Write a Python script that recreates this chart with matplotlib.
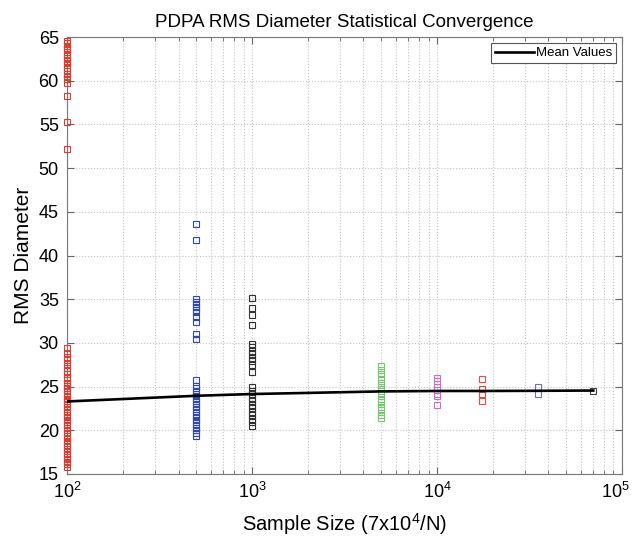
import numpy as np
import matplotlib
matplotlib.use("Agg")
import matplotlib.pyplot as plt
import matplotlib.transforms as mtransforms
from matplotlib.ticker import LogLocator, NullLocator, MultipleLocator

plt.rcParams["font.family"] = ["Liberation Sans", "DejaVu Sans"]
plt.rcParams["mathtext.fontset"] = "custom"
plt.rcParams["mathtext.rm"] = "Liberation Sans"
plt.rcParams["mathtext.it"] = "Liberation Sans:italic"
plt.rcParams["mathtext.default"] = "regular"

# sample sizes (7x10^4 / N)
sizes = [100, 500, 1000, 5000, 10000, 17500, 35000, 70000]
colors = ["#e6392e", "#3047b8", "#303030", "#72c96e", "#cf6bd0", "#e84a40", "#6b6ccc", "#404040"]

rms_100 = [64.6, 64.3, 64.0, 63.8, 63.5, 63.1, 62.9, 62.6, 62.3, 62.0, 61.8, 61.5,
           61.1, 60.8, 60.5, 60.2, 59.8, 58.3, 55.3, 52.2,
           29.4, 28.9, 28.4, 28.0, 27.6, 27.1, 26.8, 26.4, 26.0, 25.7, 25.4, 25.1,
           24.8, 24.5, 24.2, 23.9, 23.6, 23.3, 23.0, 22.7, 22.4, 22.1, 21.8, 21.5,
           21.2, 20.9, 20.6, 20.3, 20.0, 19.7, 19.4, 19.1, 18.8, 18.5, 18.2, 17.9,
           17.6, 17.3, 17.0, 16.7, 16.4, 16.1, 15.8]
rms_500 = [43.6, 41.8, 35.0, 34.7, 34.4, 34.1, 33.8, 33.5, 33.0, 32.4, 31.0, 30.4,
           25.8, 25.1, 24.8, 24.5, 24.2, 23.9, 23.6, 23.3, 23.0, 22.7, 22.4, 22.1,
           21.8, 21.5, 21.2, 20.9, 20.6, 20.3, 20.0, 19.7, 19.4]
rms_1000 = [35.1, 34.0, 33.2, 32.0, 29.9, 29.5, 29.1, 28.7, 28.3, 27.9, 27.5, 26.7,
            24.9, 24.5, 24.1, 23.7, 23.3, 22.9, 22.5, 22.1, 21.7, 21.3, 20.9, 20.5]
rms_5000 = [27.4, 26.9, 26.4, 25.9, 25.4, 24.9, 24.5, 24.1, 23.6, 23.2, 22.7, 22.3, 21.8, 21.4]
rms_10000 = [26.0, 25.6, 25.0, 24.6, 24.2, 23.9, 22.9]
rms_17500 = [25.9, 24.7, 24.1, 23.4]
rms_35000 = [24.9, 24.1]
rms_70000 = [24.5]
rms_all = [rms_100, rms_500, rms_1000, rms_5000, rms_10000, rms_17500, rms_35000, rms_70000]

mean_vals = [23.3, 23.95, 24.15, 24.45, 24.5, 24.5, 24.52, 24.55]

fig = plt.figure(figsize=(6.34, 5.38), dpi=100)
ax = fig.add_axes([0.106, 0.119, 0.875, 0.812])

for n, vals, c in zip(sizes, rms_all, colors):
    ax.plot([n] * len(vals), vals, "s", ms=4.8, mfc="none", mec=c, mew=0.8, clip_on=False, zorder=3)

ax.plot(sizes, mean_vals, "-", color="black", lw=1.9, label="Mean Values", zorder=4)

ax.set_xscale("log")
ax.set_xlim(100, 1e5)
ax.set_ylim(15, 65)
ax.yaxis.set_major_locator(MultipleLocator(5))
ax.xaxis.set_major_locator(LogLocator(base=10, numticks=10))
ax.xaxis.set_minor_locator(LogLocator(base=10, subs=np.arange(2, 10), numticks=10))
ax.yaxis.set_minor_locator(NullLocator())

ax.grid(True, which="both", axis="x", linestyle=":", color="#c4c4c4", lw=0.8)
ax.grid(True, which="major", axis="y", linestyle=":", color="#c4c4c4", lw=0.8)
ax.tick_params(which="both", direction="in", top=True, right=True, labelsize=13, colors="#666666",
               labelcolor="black")
ax.tick_params(which="major", length=5, pad=6)
ax.tick_params(which="minor", length=3)
for s in ax.spines.values():
    s.set_color("#777777")

ax.set_title("PDPA RMS Diameter Statistical Convergence", fontsize=13.5, pad=7)
ax.set_xlabel("Sample Size (7x10$^4$/N)", fontsize=14.5, labelpad=6)
ax.set_ylabel("RMS Diameter", fontsize=15, labelpad=4)

leg = ax.legend(loc="upper right", fontsize=9.5, fancybox=False, framealpha=1,
                handlelength=3.0, borderpad=0.3, handletextpad=0.1, borderaxespad=0.45)
leg.get_frame().set_edgecolor("#555555")
leg.get_frame().set_linewidth(0.8)

# keep the last x tick label inside the figure edge
fig.canvas.draw()
last = [t for t in ax.get_xticklabels() if t.get_position()[0] >= 1e5 * 0.999]
for t in last:
    t.set_transform(t.get_transform() + mtransforms.ScaledTranslation(-5 / 72, 0, fig.dpi_scale_trans))

fig.savefig("out.png", dpi=100)
